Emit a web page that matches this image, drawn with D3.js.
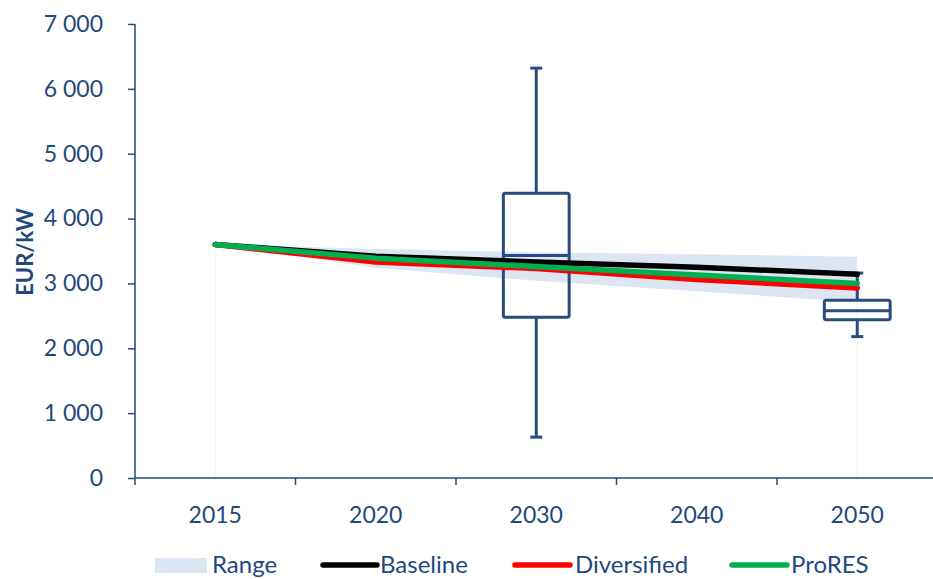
<!DOCTYPE html>
<html>
<head>
<meta charset="utf-8">
<script src="https://cdn.jsdelivr.net/npm/d3@7"></script>
<style>
  html, body { margin: 0; padding: 0; background: #ffffff; }
  svg { display: block; }
  text { font-family: Lato, "Open Sans", sans-serif; fill: #1F497D; }
</style>
</head>
<body>
<svg id="chart" width="933" height="579"></svg>
<script>
// Investment cost scenarios, EUR/kW
const years = ["2015", "2020", "2030", "2040", "2050"];
const yTicks = [0, 1000, 2000, 3000, 4000, 5000, 6000, 7000];

const rangeLow  = [3600, 3240, 3040, 2880, 2710];
const rangeHigh = [3600, 3530, 3480, 3450, 3410];

const baseline    = [3600, 3420, 3330, 3250, 3140];
const diversified = [3600, 3330, 3230, 3060, 2930];
const proRES      = [3600, 3390, 3260, 3130, 3000];

// Literature spread shown as box plots: [min, q1, median, q3, max]
const boxYears = ["2030", "2050"];
const boxStats = [
  [630, 2480, 3430, 4390, 6320],
  [2180, 2440, 2580, 2740, 3160]
];

const seriesNames  = ["Baseline", "Diversified", "ProRES"];
const seriesColors = ["#000000", "#FF0000", "#00B050"];
const seriesValues = [baseline, diversified, proRES];

const axisColor = "#254A7D";
const boxColor = "#284C80";
const rangeColor = "#DCE6F2";

const svg = d3.select("#chart");

const x = d3.scaleBand().domain(years).range([135, 937.5]).padding(0);
const y = d3.scaleLinear().domain([0, 7000]).range([478, 24]);
const cx = d => x(d) + x.bandwidth() / 2;

// faint edges of the range area at the first and last year
[0, years.length - 1].forEach(i => {
  svg.append("line")
    .attr("x1", cx(years[i])).attr("x2", cx(years[i]))
    .attr("y1", y(rangeLow[i])).attr("y2", y(0))
    .attr("stroke", "#EEF2F8").attr("stroke-width", 1);
});

// range band
const rangeData = years.map((yr, i) => ({ yr, lo: rangeLow[i], hi: rangeHigh[i] }));
svg.append("path")
  .datum(rangeData)
  .attr("fill", rangeColor)
  .attr("d", d3.area().x(d => cx(d.yr)).y0(d => y(d.lo)).y1(d => y(d.hi)));

// box plots
const boxW = x.bandwidth() * 0.41;
const capW = 12;
boxYears.forEach((yr, i) => {
  const [mn, q1, md, q3, mx] = boxStats[i];
  const g = svg.append("g")
    .attr("stroke", boxColor).attr("stroke-width", 3).attr("fill", "none")
    .attr("stroke-linejoin", "round");
  const c = cx(yr);
  g.append("line").attr("x1", c).attr("x2", c).attr("y1", y(mx)).attr("y2", y(q3));
  g.append("line").attr("x1", c).attr("x2", c).attr("y1", y(q1)).attr("y2", y(mn));
  g.append("line").attr("x1", c - capW / 2).attr("x2", c + capW / 2).attr("y1", y(mx)).attr("y2", y(mx));
  g.append("line").attr("x1", c - capW / 2).attr("x2", c + capW / 2).attr("y1", y(mn)).attr("y2", y(mn));
  g.append("rect").attr("x", c - boxW / 2).attr("width", boxW)
    .attr("y", y(q3)).attr("height", y(q1) - y(q3)).attr("rx", 2);
  g.append("line").attr("x1", c - boxW / 2).attr("x2", c + boxW / 2).attr("y1", y(md)).attr("y2", y(md));
});

// scenario lines
const line = d3.line().x((d, i) => cx(years[i])).y(d => y(d));
seriesValues.forEach((vals, k) => {
  svg.append("path")
    .datum(vals)
    .attr("fill", "none")
    .attr("stroke", seriesColors[k])
    .attr("stroke-width", 5.5)
    .attr("stroke-linecap", "round")
    .attr("stroke-linejoin", "round")
    .attr("d", line);
});

// y axis
const fmt = v => d3.format(",")(v).replace(/,/g, "\u00a0");
const yAxis = svg.append("g").attr("transform", "translate(135,0)")
  .call(d3.axisLeft(y).tickValues(yTicks).tickSize(7).tickPadding(8).tickFormat(fmt));
yAxis.select(".domain").attr("stroke", axisColor).attr("stroke-width", 1.5)
  .attr("d", `M0,${y(7000)}V${y(0)}`);
yAxis.selectAll(".tick line").attr("stroke", axisColor).attr("stroke-width", 1.5);
yAxis.selectAll(".tick text").attr("fill", "#1F497D")
  .style("font-family", "Lato, sans-serif").style("font-size", "23px").attr("x", -32);

// x axis
const xAxis = svg.append("g").attr("transform", `translate(0,${y(0)})`)
  .call(d3.axisBottom(x).tickSize(0).tickPadding(29));
xAxis.select(".domain").attr("stroke", axisColor).attr("stroke-width", 1.5)
  .attr("d", `M135,0H937.5`);
xAxis.selectAll(".tick text").attr("fill", "#1F497D")
  .style("font-family", "Lato, sans-serif").style("font-size", "23px");
// boundary ticks between categories
const bounds = years.map(d => x(d));
xAxis.selectAll(".bound").data(bounds).enter().append("line")
  .attr("x1", d => d).attr("x2", d => d).attr("y1", 0).attr("y2", 7)
  .attr("stroke", axisColor).attr("stroke-width", 1.5);

// y title
svg.append("text")
  .attr("transform", "translate(33,252) rotate(-90)")
  .attr("text-anchor", "middle")
  .style("font-family", "Lato, sans-serif").style("font-size", "22px").style("font-weight", "bold")
  .text("EUR/kW");

// legend
const legY = 565;
const leg = svg.append("g");
leg.append("rect").attr("x", 155).attr("y", legY - 7).attr("width", 52).attr("height", 15).attr("fill", rangeColor);
leg.append("text").attr("x", 212).attr("y", legY).attr("dy", "0.35em")
  .style("font-size", "24px").text("Range");
const legPos = [[323, 377, 380], [515, 570, 575], [732, 787, 791]];
seriesNames.forEach((name, k) => {
  const [a, b, t] = legPos[k];
  leg.append("line").attr("x1", a).attr("x2", b).attr("y1", legY).attr("y2", legY)
    .attr("stroke", seriesColors[k]).attr("stroke-width", 5.5).attr("stroke-linecap", "round");
  leg.append("text").attr("x", t).attr("y", legY).attr("dy", "0.35em")
    .style("font-size", "24px").text(name);
});
</script>
</body>
</html>
